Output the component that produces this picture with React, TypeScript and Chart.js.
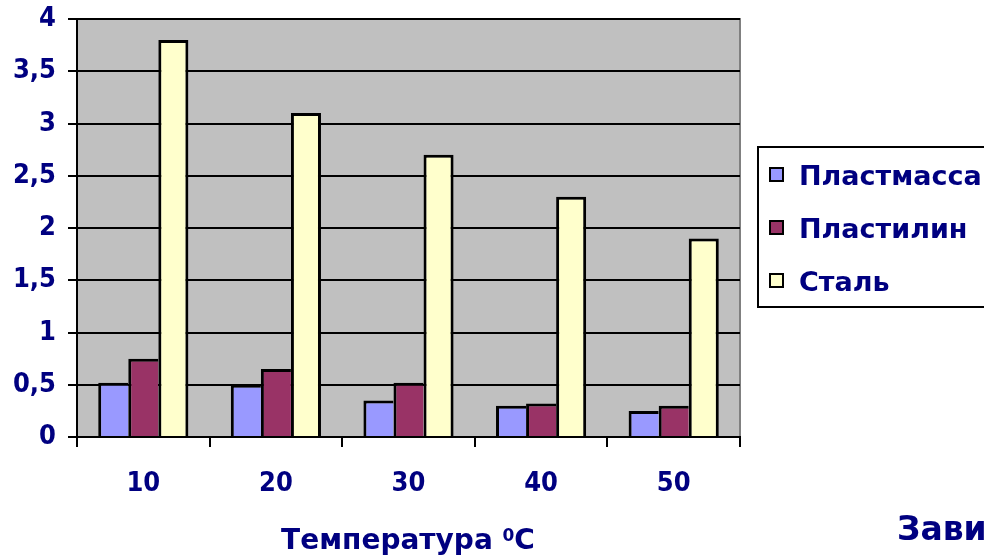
import React, { useEffect, useRef } from "react";
import { Chart, registerables } from "chart.js";

Chart.register(...registerables);

// Temperature categories (°C)
const temperatures = ["10", "20", "30", "40", "50"];

// Series values
const plastmassa = [0.52, 0.5, 0.35, 0.3, 0.25];
const plastilin = [0.75, 0.65, 0.52, 0.32, 0.3];
const stal = [3.8, 3.1, 2.7, 2.3, 1.9];

const seriesNames = ["Пластмасса", "Пластилин", "Сталь"];
const seriesColors = ["#9999FF", "#993366", "#FFFFCC"];

const axisTitleMain = "Температура ";
const axisTitleSup = "0";
const axisTitleUnit = "C";
const chartTitle = "Зависимость";

const NAVY = "#000080";
const FONT = "'DejaVu Sans', Verdana, sans-serif";
const FONT_COND = "'DejaVu Sans Condensed', 'DejaVu Sans', sans-serif";

const decorPlugin = {
  id: "decor",
  beforeDraw(chart: any) {
    const { ctx, chartArea: a } = chart;
    ctx.save();
    ctx.fillStyle = "#C0C0C0";
    ctx.fillRect(a.left, a.top, a.right - a.left, a.bottom - a.top);
    ctx.strokeStyle = "#808080";
    ctx.lineWidth = 2;
    ctx.strokeRect(a.left, a.top, a.right - a.left, a.bottom - a.top);
    ctx.restore();
  },
  afterDraw(chart: any) {
    const { ctx } = chart;
    ctx.save();
    // legend box
    const lx = 758, ly = 147, lw = 260, lh = 160;
    ctx.fillStyle = "#FFFFFF";
    ctx.fillRect(lx, ly, lw, lh);
    ctx.strokeStyle = "#000000";
    ctx.lineWidth = 2;
    ctx.strokeRect(lx, ly, lw, lh);
    const baselines = [185, 238, 291];
    ctx.font = `bold 27px ${FONT}`;
    ctx.textBaseline = "alphabetic";
    ctx.textAlign = "left";
    seriesNames.forEach((name, i) => {
      const b = baselines[i];
      ctx.fillStyle = seriesColors[i];
      ctx.fillRect(770, b - 17, 13, 13);
      ctx.lineWidth = 2;
      ctx.strokeStyle = "#000000";
      ctx.strokeRect(770, b - 17, 13, 13);
      ctx.fillStyle = NAVY;
      ctx.fillText(name, 799, b);
    });

    // x axis title with superscript degree
    ctx.fillStyle = NAVY;
    const mainFont = `bold 28px ${FONT}`;
    const supFont = `bold 17px ${FONT}`;
    ctx.font = mainFont;
    const w1 = ctx.measureText(axisTitleMain).width;
    const w3 = ctx.measureText(axisTitleUnit).width;
    ctx.font = supFont;
    const w2 = ctx.measureText(axisTitleSup).width;
    const total = w1 + w2 + w3;
    let x = 408 - total / 2;
    const base = 549;
    ctx.font = mainFont;
    ctx.fillText(axisTitleMain, x, base);
    x += w1;
    ctx.font = supFont;
    ctx.fillText(axisTitleSup, x, base - 8);
    x += w2;
    ctx.font = mainFont;
    ctx.fillText(axisTitleUnit, x, base);

    // chart title (starts near the right edge)
    ctx.font = `bold 33px ${FONT}`;
    ctx.fillText(chartTitle, 897, 540);
    ctx.restore();
  },
};

export default function App() {
  const ref = useRef<HTMLCanvasElement>(null);

  useEffect(() => {
    if (!ref.current) return;
    const all = [plastmassa, plastilin, stal];
    const datasets = all.map((d, i) => ({
      label: seriesNames[i],
      data: d,
      backgroundColor: seriesColors[i],
      borderColor: "#000000",
      // adjacent bars share a single dividing line
      borderWidth: { top: 3, left: 3, right: i === all.length - 1 ? 3 : 0, bottom: 0 },
      borderSkipped: false as any,
      categoryPercentage: 0.68,
      barPercentage: 1.0,
    }));
    const chart = new Chart(ref.current, {
      type: "bar",
      data: { labels: temperatures, datasets },
      options: {
        animation: false,
        responsive: false,
        maintainAspectRatio: false,
        layout: { padding: { top: 19, right: 244, bottom: 0, left: 0 } },
        plugins: {
          legend: { display: false },
          tooltip: { enabled: false },
        },
        scales: {
          x: {
            afterFit: (s: any) => {
              s.height = 123;
              s.paddingLeft = 0;
              s.paddingRight = 0;
            },
            grid: {
              offset: true,
              drawOnChartArea: false,
              drawTicks: true,
              tickLength: 10,
              color: "#000000",
              lineWidth: 2,
            },
            border: { color: "#000000", width: 2 },
            ticks: {
              color: NAVY,
              font: { family: FONT_COND, size: 27, weight: "bold" },
              padding: 21,
            },
          },
          y: {
            min: 0,
            max: 4,
            afterFit: (s: any) => {
              s.width = 77;
              s.paddingTop = 0;
              s.paddingBottom = 0;
            },
            grid: {
              color: "#000000",
              lineWidth: 2,
              tickLength: 9,
            },
            border: { color: "#000000", width: 2 },
            ticks: {
              stepSize: 0.5,
              color: NAVY,
              font: { family: FONT_COND, size: 27, weight: "bold" },
              padding: 12,
              callback: (v: any) => String(v).replace(".", ","),
            },
          },
        },
      },
      plugins: [decorPlugin],
    });
    return () => chart.destroy();
  }, []);

  return (
    <div style={{ position: "fixed", left: 0, top: 0, width: 984, height: 560, background: "#FFFFFF" }}>
      <canvas ref={ref} width={984} height={560} style={{ display: "block" }} />
    </div>
  );
}
